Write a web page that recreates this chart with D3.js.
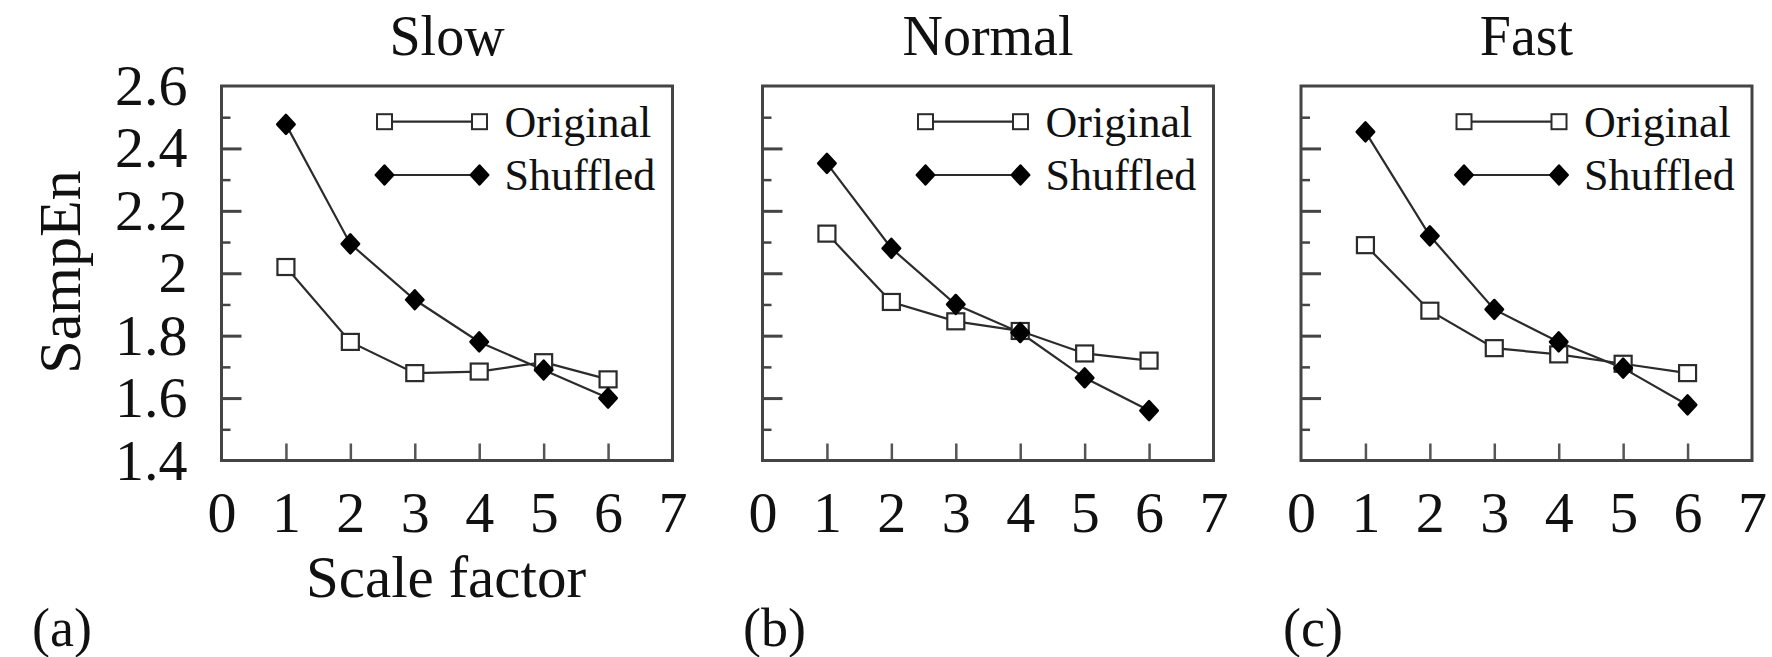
<!DOCTYPE html>
<html>
<head>
<meta charset="utf-8">
<script src="https://cdn.jsdelivr.net/npm/d3@7"></script>
<style>
  html, body { margin: 0; padding: 0; background: #fff; }
  svg { display: block; }
  text { font-family: "Liberation Serif", "Times New Roman", serif; fill: #111; }
</style>
</head>
<body>
<svg id="chart" width="1772" height="657"></svg>
<script>
// ---- data ----
const panelTitles = ["Slow", "Normal", "Fast"];
const panelLetters = ["(a)", "(b)", "(c)"];
const scaleFactors = [1, 2, 3, 4, 5, 6];
const seriesNames = ["Original", "Shuffled"];
const slowOriginal   = [2.02, 1.78, 1.68, 1.685, 1.715, 1.66];
const slowShuffled   = [2.477, 2.094, 1.915, 1.78, 1.69, 1.60];
const normalOriginal = [2.127, 1.908, 1.846, 1.815, 1.743, 1.72];
const normalShuffled = [2.352, 2.08, 1.90, 1.81, 1.665, 1.56];
const fastOriginal   = [2.09, 1.88, 1.76, 1.74, 1.71, 1.68];
const fastShuffled   = [2.453, 2.12, 1.884, 1.78, 1.696, 1.578];
const xTicks = [0, 1, 2, 3, 4, 5, 6, 7];
const xTickLabels = ["0", "1", "2", "3", "4", "5", "6", "7"];
const yMajorTicks = [1.4, 1.6, 1.8, 2.0, 2.2, 2.4, 2.6];
const yTickLabels = ["1.4", "1.6", "1.8", "2", "2.2", "2.4", "2.6"];
const yMinorTicks = [1.5, 1.7, 1.9, 2.1, 2.3, 2.5];
const xDomain = [0, 7];
const yDomain = [1.4, 2.6];
const xLabel = "Scale factor";
const yLabel = "SampEn";

const panelData = [
  [slowOriginal, slowShuffled],
  [normalOriginal, normalShuffled],
  [fastOriginal, fastShuffled]
];

// ---- layout ----
const panelLefts = [221.5, 762.5, 1301];
const letterXs = [32, 743, 1283];
const panelW = 451;
const plotTop = 86, plotBottom = 460.5;
const ink = "#2b2b2b";

const svg = d3.select("#chart");

const diamond = (s) => `M0,${-s}L${s*0.92},0L0,${s}L${-s*0.92},0Z`;

panelData.forEach((series, i) => {
  const left = panelLefts[i];
  const x = d3.scaleLinear().domain(xDomain).range([left, left + panelW]);
  const y = d3.scaleLinear().domain(yDomain).range([plotBottom, plotTop]);
  const g = svg.append("g");

  // title
  g.append("text")
    .attr("x", (left + left + panelW) / 2)
    .attr("y", 54.5)
    .attr("text-anchor", "middle")
    .style("font-size", "56px")
    .text(panelTitles[i]);

  // major y ticks (pointing inside)
  g.append("g")
    .attr("transform", `translate(${left},0)`)
    .call(d3.axisRight(y).tickValues(yMajorTicks.slice(1, -1)).tickSize(20).tickFormat(""))
    .call(a => a.select(".domain").remove())
    .call(a => a.selectAll("line").attr("stroke", "#444").attr("stroke-width", 3));
  // minor y ticks
  g.append("g")
    .attr("transform", `translate(${left},0)`)
    .call(d3.axisRight(y).tickValues(yMinorTicks).tickSize(9).tickFormat(""))
    .call(a => a.select(".domain").remove())
    .call(a => a.selectAll("line").attr("stroke", "#444").attr("stroke-width", 2.5));

  // y tick labels only on first panel
  if (i === 0) {
    g.append("g")
      .attr("transform", `translate(${left},0)`)
      .call(d3.axisLeft(y).tickValues(yMajorTicks).tickSize(0).tickPadding(34)
        .tickFormat((d, k) => yTickLabels[k]))
      .call(a => a.select(".domain").remove())
      .call(a => a.selectAll("text").style("font-size", "58px")
        .style("font-family", "'Liberation Serif', serif").attr("fill", "#111"));
  }

  // x ticks pointing up (inside)
  g.append("g")
    .attr("transform", `translate(0,${plotBottom})`)
    .call(d3.axisTop(x).tickValues(scaleFactors).tickSize(17).tickFormat(""))
    .call(a => a.select(".domain").remove())
    .call(a => a.selectAll("line").attr("stroke", "#555").attr("stroke-width", 2.5));

  // x tick labels
  g.append("g")
    .attr("transform", `translate(0,${plotBottom})`)
    .call(d3.axisBottom(x).tickValues(xTicks).tickSize(0)
      .tickFormat((d, k) => xTickLabels[k]))
    .call(a => a.select(".domain").remove())
    .call(a => a.selectAll("text").attr("dy", null).attr("y", 71.5)
      .style("font-size", "58px").style("font-family", "'Liberation Serif', serif").attr("fill", "#111"));

  // frame
  g.append("rect")
    .attr("x", x(xDomain[0])).attr("y", y(yDomain[1]))
    .attr("width", x(xDomain[1]) - x(xDomain[0]))
    .attr("height", y(yDomain[0]) - y(yDomain[1]))
    .attr("fill", "none").attr("stroke", "#444").attr("stroke-width", 3);

  const line = d3.line().x((d, k) => x(scaleFactors[k])).y(d => y(d));

  // lines
  series.forEach(vals => {
    g.append("path").datum(vals)
      .attr("d", line)
      .attr("fill", "none").attr("stroke", ink).attr("stroke-width", 2.2);
  });

  // original markers (open squares)
  g.selectAll(".sq").data(series[0]).join("rect")
    .attr("x", (d, k) => x(scaleFactors[k]) - 8.5)
    .attr("y", d => y(d) - 8)
    .attr("width", 17).attr("height", 16)
    .attr("fill", "#fff").attr("stroke", ink).attr("stroke-width", 2.2);

  // shuffled markers (filled, rounded diamonds)
  g.selectAll(".dm").data(series[1]).join("path")
    .attr("transform", (d, k) => `translate(${x(scaleFactors[k])},${y(d)})`)
    .attr("d", diamond(9.5))
    .attr("fill", "#000").attr("stroke", "#000").attr("stroke-width", 2.5)
    .attr("stroke-linejoin", "round");

  // legend
  const lx1 = left + 163, lx2 = left + 258, tx = left + 283;
  const rows = [plotTop + 35.7, plotTop + 89];
  rows.forEach((ry, r) => {
    g.append("line").attr("x1", lx1).attr("x2", lx2).attr("y1", ry).attr("y2", ry)
      .attr("stroke", ink).attr("stroke-width", 2.2);
    [lx1, lx2].forEach(cx => {
      if (r === 0) {
        g.append("rect").attr("x", cx - 7.5).attr("y", ry - 7.5)
          .attr("width", 15).attr("height", 15)
          .attr("fill", "#fff").attr("stroke", ink).attr("stroke-width", 2);
      } else {
        g.append("path").attr("transform", `translate(${cx},${ry})`)
          .attr("d", diamond(9.5)).attr("fill", "#000")
          .attr("stroke", "#000").attr("stroke-width", 2.5).attr("stroke-linejoin", "round");
      }
    });
    g.append("text").attr("x", tx).attr("y", ry + 15)
      .style("font-size", "44px").text(seriesNames[r]);
  });

  // panel letter
  g.append("text")
    .attr("x", letterXs[i])
    .attr("y", 646)
    .style("font-size", "54px")
    .attr("fill", "#333")
    .text(panelLetters[i]);
});

// axis titles (first panel)
svg.append("text")
  .attr("x", 446).attr("y", 597)
  .attr("text-anchor", "middle")
  .style("font-size", "59px")
  .text(xLabel);

svg.append("text")
  .attr("transform", `translate(80,272) rotate(-90)`)
  .attr("text-anchor", "middle")
  .style("font-size", "60px")
  .text(yLabel);
</script>
</body>
</html>
